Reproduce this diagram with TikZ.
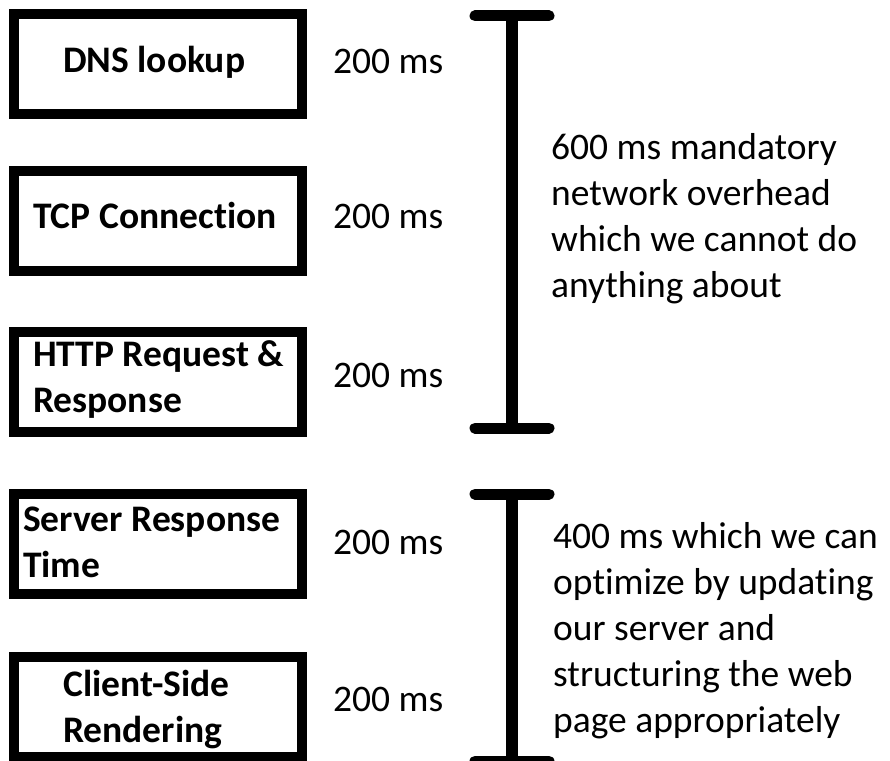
\documentclass[tikz,border=0pt]{standalone}
\usepackage{fontspec}
\setmainfont{Carlito}[Ligatures=NoCommon]
\tikzset{
  stagebox/.style={draw,line width=10pt,minimum width=288pt,minimum height=100pt,inner sep=0pt},
  stagetxt/.style={font=\bfseries\fontsize{37.5}{46}\selectfont,align=left,inner sep=0pt,anchor=base west},
  mslabel/.style={font=\fontsize{37.5}{46}\selectfont,inner sep=0pt,anchor=base west},
  remark/.style={font=\fontsize{37.5}{46}\selectfont,align=left,inner sep=0pt,anchor=base west},
  barline/.style={line width=12pt},
  barcap/.style={line width=11pt,line cap=round}
}

\begin{document}
\begin{tikzpicture}[x=1pt,y=-1pt]
\useasboundingbox (0,0) rectangle (890,760);

% Stage boxes
\node[stagebox] (dns) at (158,64) {};
\node[stagebox] (tcp) at (158,220.5) {};
\node[stagebox] (http) at (158,382) {};
\node[stagebox] (srv) at (158,544) {};
\node[stagebox] (csr) at (158,707) {};

% Box texts (base = last line)
\node[stagetxt] (dnstxt) at (63,72) {DNS lookup};
\node[stagetxt] (tcptxt) at (33,228) {TCP Connection};
\node[stagetxt] (httptxt) at (33,412) {HTTP Request \&\\Response};
\node[stagetxt] (srvtxt) at (23,577) {Server Response\\Time};
\node[stagetxt] (csrtxt) at (63,742) {Client-Side\\Rendering};

% Durations
\node[mslabel] (dnsms) at (333,73) {200 ms};
\node[mslabel] (tcpms) at (333,228) {200 ms};
\node[mslabel] (httpms) at (333,387) {200 ms};
\node[mslabel] (srvms) at (333,554) {200 ms};
\node[mslabel] (csrms) at (333,711) {200 ms};

% Upper bracket
\coordinate (T1) at (512,16);
\coordinate (B1) at (512,428);
% Lower bracket
\coordinate (T2) at (512,494);
\coordinate (B2) at (512,761);

\draw[barline] (T1) -- (B1);
\draw[barcap] ([xshift=-37pt]T1) -- ([xshift=37pt]T1);
\draw[barcap] ([xshift=-37pt]B1) -- ([xshift=37pt]B1);

\draw[barline] (T2) -- (B2);
\draw[barcap] ([xshift=-37pt]T2) -- ([xshift=37pt]T2);
\draw[barcap] ([xshift=-37pt]B2) -- ([xshift=37pt]B2);

% Remarks
\node[remark] (fixed) at (551,297) {600 ms mandatory\\network overhead\\which we cannot do\\anything about};
\node[remark] (tunable) at (553,732) {400 ms which we can\\optimize by updating\\our server and\\structuring the web\\page appropriately};

\end{tikzpicture}
\end{document}
